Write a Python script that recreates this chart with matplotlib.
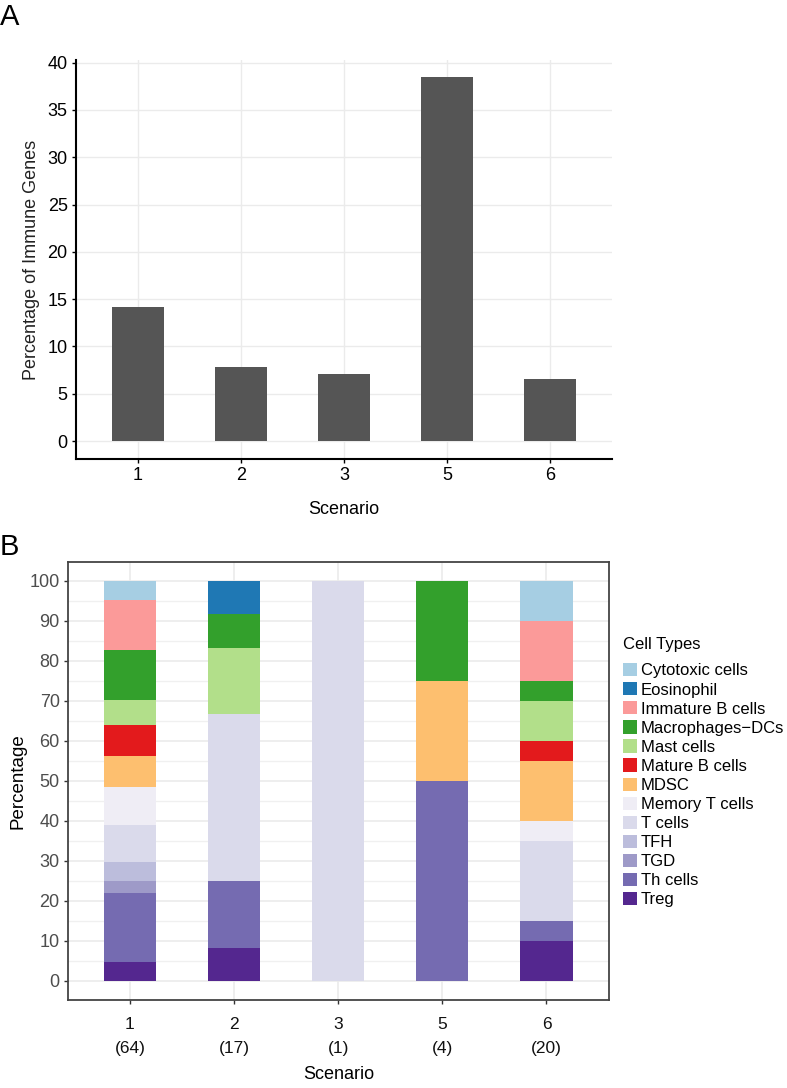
import matplotlib
matplotlib.use("Agg")
import matplotlib.pyplot as plt
import numpy as np
from matplotlib.patches import Patch
from matplotlib.ticker import MultipleLocator

# ── Data ────────────────────────────────────────────────────────────────────
scenarios = ["1", "2", "3", "5", "6"]
gene_counts = ["(64)", "(17)", "(1)", "(4)", "(20)"]
immune_pct = [14.2, 7.8, 7.1, 38.5, 6.6]

cell_types = ["Cytotoxic cells", "Eosinophil", "Immature B cells",
              "Macrophages\u2212DCs", "Mast cells", "Mature B cells", "MDSC",
              "Memory T cells", "T cells", "TFH", "TGD", "Th cells", "Treg"]
cell_colors = ["#A6CEE3", "#1F78B4", "#FB9A99", "#33A02C", "#B2DF8A",
               "#E31A1C", "#FDBF6F", "#EFEDF5", "#DADAEB", "#BCBDDC",
               "#9E9AC8", "#756BB1", "#54278F"]

# percentage of each cell type per scenario (order = cell_types)
pct_s1 = [4.69, 0, 12.5, 12.5, 6.25, 7.81, 7.81, 9.38, 9.38, 4.69, 3.13, 17.19, 4.69]
pct_s2 = [0, 8.33, 0, 8.33, 16.67, 0, 0, 0, 41.67, 0, 0, 16.67, 8.33]
pct_s3 = [0, 0, 0, 0, 0, 0, 0, 0, 100, 0, 0, 0, 0]
pct_s5 = [0, 0, 0, 25, 0, 0, 25, 0, 0, 0, 0, 50, 0]
pct_s6 = [10, 0, 15, 5, 10, 5, 15, 5, 20, 0, 0, 5, 10]

plt.rcParams["font.family"] = ["Liberation Sans", "DejaVu Sans"]

fig = plt.figure(figsize=(7.87, 10.88), dpi=100)
x = np.arange(len(scenarios))

# ── Panel A ─────────────────────────────────────────────────────────────────
axA = fig.add_axes([0.0966, 0.5781, 0.681, 0.3668])
axA.bar(x, immune_pct, width=0.5, color="#555555", zorder=3)
axA.set_xlim(-0.60, 4.60)
axA.set_ylim(-1.9, 40.28)
axA.set_yticks(range(0, 41, 5))
axA.set_xticks(x)
axA.set_xticklabels(scenarios)
axA.tick_params(labelsize=13)
axA.grid(True, color="#EBEBEB", lw=1.0, zorder=0)
for s in ["top", "right"]:
    axA.spines[s].set_visible(False)
for s in ["left", "bottom"]:
    axA.spines[s].set_linewidth(1.5)
    axA.spines[s].set_color("black")
axA.tick_params(length=3, width=1.0, colors="black", pad=3)
axA.set_xlabel("Scenario", fontsize=13)
axA.xaxis.set_label_coords(0.5, -0.105)
axA.set_ylabel("Percentage of Immune Genes", fontsize=13, color="#222222")
axA.yaxis.set_label_coords(-0.067, 0.5)
fig.text(0.0, 1 - 25 / 1088, "A", fontsize=21, va="baseline", ha="left")

# ── Panel B ─────────────────────────────────────────────────────────────────
axB = fig.add_axes([0.0864, 0.0809, 0.6874, 0.4026])
table = np.array([pct_s1, pct_s2, pct_s3, pct_s5, pct_s6])
bottom = np.zeros(len(scenarios))
# stack from Treg (bottom) up to Cytotoxic cells (top)
for i in range(len(cell_types) - 1, -1, -1):
    vals = table[:, i]
    axB.bar(x, vals, width=0.5, bottom=bottom, color=cell_colors[i],
            lw=0, zorder=3)
    bottom += vals

axB.set_xlim(-0.595, 4.60)
axB.set_ylim(-4.75, 104.75)
axB.yaxis.set_major_locator(MultipleLocator(10))
axB.yaxis.set_minor_locator(MultipleLocator(5))
axB.set_xticks(x)
axB.set_xticklabels([f"{s}\n{c}" for s, c in zip(scenarios, gene_counts)],
                    fontsize=12.5, color="#111111", linespacing=1.75)
for lab in axB.get_yticklabels():
    lab.set_fontsize(13)
    lab.set_color("#4D4D4D")
axB.grid(True, which="major", color="#EBEBEB", lw=1.2, zorder=0)
axB.grid(True, which="minor", axis="y", color="#F0F0F0", lw=1.0, zorder=0)
axB.tick_params(which="major", length=3, width=1.0, color="#333333", pad=3)
axB.tick_params(axis="x", pad=9)
axB.tick_params(which="minor", length=0)
for s in axB.spines.values():
    s.set_color("#444444")
    s.set_linewidth(1.3)
axB.set_xlabel("Scenario", fontsize=13)
axB.xaxis.set_label_coords(0.5, -0.15)
axB.set_ylabel("Percentage", fontsize=13.5)
axB.yaxis.set_label_coords(-0.076, 0.5)
fig.text(0.0, 1 - 555 / 1088, "B", fontsize=21, va="baseline", ha="left")

# legend: title drawn separately so the gap below it matches the original
fig.text(623 / 787, 1 - 645 / 1088, "Cell Types", fontsize=12,
         ha="left", va="center")
handles = [Patch(facecolor=c, edgecolor="none", label=n)
           for n, c in zip(cell_types, cell_colors)]
leg = fig.legend(handles=handles, loc="upper left",
                 bbox_to_anchor=(0.792, 1 - 663 / 1088), frameon=False,
                 fontsize=12, handlelength=0.85, handleheight=0.85,
                 handletextpad=0.2, labelspacing=0.22,
                 borderpad=0.0, borderaxespad=0.0)

fig.savefig("out.png", dpi=100)
